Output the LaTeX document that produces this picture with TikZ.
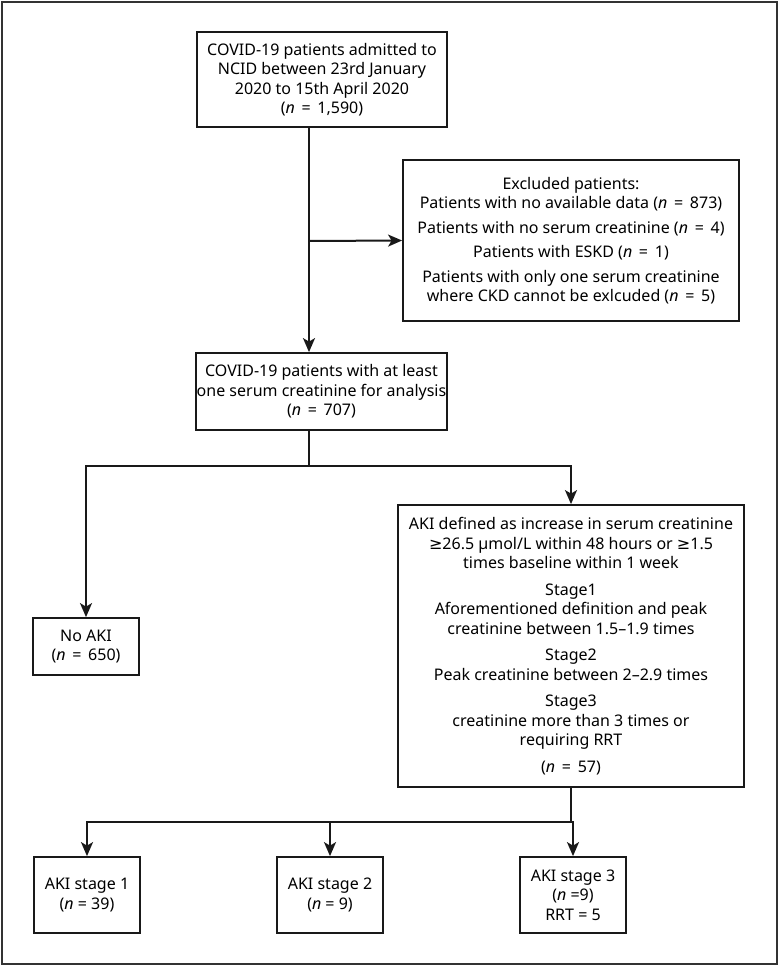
\documentclass[tikz,border=0pt]{standalone}
\usepackage{fontspec}
\setmainfont{Noto Sans}
\newfontfamily\symfont{DejaVu Sans}
\usetikzlibrary{arrows.meta}

\newcommand{\nval}[1]{(\textit{n}\hspace{0.42em}=\hspace{0.42em}#1)}
\newcommand{\atleast}{{\symfont ≥}}

\begin{document}
\begin{tikzpicture}[x=1pt,y=-1pt]
    \useasboundingbox (0,0) rectangle (779,966);
    \draw[line width=2pt,draw=black!80] (2,2) rectangle (777,964);

    \begin{scope}[every node/.style={draw=black!90,line width=1.8pt,align=center,inner sep=0pt,
        font=\fontsize{16}{19.5}\selectfont}]
      \node[minimum width=250pt,minimum height=95pt] (admit) at (322,79.5)
        {COVID-19 patients admitted to\\NCID between 23rd January\\2020 to 15th April 2020\\\nval{1,590}};
      \node[minimum width=336pt,minimum height=161pt] (excl) at (571,240.5)
        {Excluded patients:\\Patients with no available data \nval{873}\\[5pt]
         Patients with no serum creatinine \nval{4}\\[5pt]
         Patients with ESKD \nval{1}\\[5pt]
         Patients with only one serum creatinine\\where CKD cannot be exlcuded \nval{5}};
      \node[minimum width=251pt,minimum height=77pt] (analysis) at (321.5,391.5)
        {COVID-19 patients with at least\\one serum creatinine for analysis\\\nval{707}};
      \node[minimum width=106pt,minimum height=57pt] (noaki) at (86,646.5)
        {No AKI\\\nval{650}};
      \node[minimum width=346pt,minimum height=282pt] (aki) at (571,646)
        {AKI defined as increase in serum creatinine\\\atleast26.5 µmol/L within 48 hours or \atleast1.5\\times baseline within 1 week\\[7pt]
         Stage1\\Aforementioned definition and peak\\creatinine between 1.5–1.9 times\\[7pt]
         Stage2\\Peak creatinine between 2–2.9 times\\[7pt]
         Stage3\\creatinine more than 3 times or\\requiring RRT\\[7pt]
         \nval{57}};
      \node[minimum width=106pt,minimum height=76pt] (st1) at (87,895)
        {AKI stage 1\\(\textit{n} = 39)};
      \node[minimum width=106pt,minimum height=76pt] (st2) at (330,895)
        {AKI stage 2\\(\textit{n} = 9)};
      \node[minimum width=106pt,minimum height=76pt] (st3) at (573,895)
        {AKI stage 3\\(\textit{n} =9)\\RRT = 5};
    \end{scope}

    \begin{scope}[>={Stealth[length=14pt,width=12pt,inset=3.5pt]},
        every path/.style={line width=2pt,draw=black!90}]
      \coordinate (j1) at (309,241);
      \coordinate (s1) at (309,466);
      \coordinate (s2) at (571,822);
      \draw [->] (admit.south -| j1) -- (analysis.north -| j1);
      \draw [->] (j1) -- (excl.west);
      \draw (analysis.south -| s1) -- (s1);
      \draw [->] (s1) -| (noaki.north);
      \draw [->] (s1) -| (aki.north);
      \draw (aki.south) -- (s2);
      \draw [->] (s2) -| (st1.north);
      \draw [->] (s2) -| (st2.north);
      \draw [->] (s2) -| (st3.north);
    \end{scope}
  \end{tikzpicture}
\end{document}
